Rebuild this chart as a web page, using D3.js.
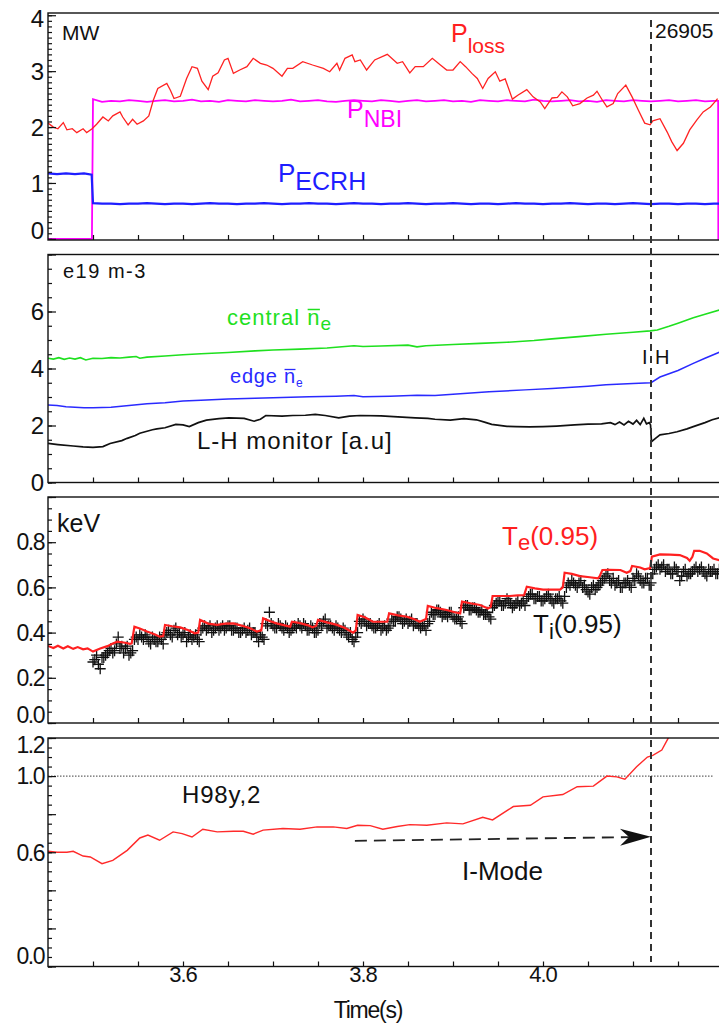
<!DOCTYPE html>
<html>
<head>
<meta charset="utf-8">
<script src="https://cdn.jsdelivr.net/npm/d3@7"></script>
<style>
  body { margin: 0; background: #fff; }
  svg { display: block; }
  text { font-family: "Liberation Sans", Arial, Helvetica, sans-serif; }
</style>
</head>
<body>
<svg id="chart" width="719" height="1029"></svg>
<script>
// ---------- time axis ----------
const timeDomain = [3.45, 4.2];
const timeTickLabels = ["3.6", "3.8", "4.0"];
const transitionTime = 4.12;   // I-mode -> H-mode transition

// ---------- panel 1: heating power (MW) ----------
const pLossTime = [3.450,3.456,3.461,3.467,3.471,3.477,3.482,3.489,3.493,3.499,3.504,3.511,3.517,3.522,3.530,3.533,3.539,3.544,3.549,3.556,3.562,3.567,3.572,3.582,3.586,3.590,3.597,3.604,3.610,3.616,3.621,3.628,3.633,3.639,3.646,3.650,3.656,3.663,3.671,3.678,3.686,3.693,3.700,3.710,3.716,3.722,3.733,3.744,3.756,3.763,3.771,3.774,3.780,3.788,3.791,3.797,3.804,3.813,3.827,3.838,3.844,3.852,3.858,3.867,3.877,3.886,3.893,3.900,3.908,3.914,3.921,3.927,3.933,3.939,3.947,3.952,3.958,3.966,3.972,3.982,3.989,3.997,4.002,4.010,4.016,4.021,4.027,4.033,4.041,4.049,4.056,4.060,4.066,4.071,4.078,4.083,4.092,4.099,4.106,4.113,4.119,4.122,4.130,4.138,4.143,4.149,4.156,4.163,4.171,4.178,4.186,4.191,4.194];
const pLossValue = [2.07,2.00,1.97,2.08,1.95,1.97,1.90,1.97,1.90,1.97,2.05,2.18,2.11,2.20,2.27,2.18,2.04,2.14,2.05,2.11,2.20,2.48,2.69,2.78,2.66,2.51,2.55,2.87,3.08,3.05,2.82,2.67,2.91,2.97,3.20,3.23,2.96,3.02,3.08,3.23,3.14,3.11,3.05,2.91,3.05,3.05,3.17,3.11,3.05,2.99,3.14,3.02,3.23,3.29,3.17,3.20,3.02,3.20,3.30,3.14,3.17,2.97,3.08,3.08,3.23,3.11,3.02,3.02,3.17,3.08,2.96,2.87,2.69,2.87,2.99,2.82,2.86,2.50,2.57,2.67,2.54,2.45,2.33,2.52,2.53,2.63,2.54,2.38,2.42,2.52,2.57,2.64,2.48,2.36,2.42,2.60,2.75,2.54,2.30,2.07,2.04,2.11,2.15,1.91,1.74,1.58,1.71,1.95,2.13,2.27,2.36,2.45,2.51];

// NBI and ECRH traces sampled every 10 ms from 3.50 s
const sampleStart = 3.50;
const sampleStep = 0.01;
const nbiOn = 3.4988, nbiOff = 4.1946;
const nbiValue = [2.50,2.45,2.47,2.46,2.48,2.47,2.45,2.47,2.48,2.46,2.47,2.49,2.46,2.47,2.45,2.48,2.47,2.46,2.48,2.47,2.46,2.47,2.49,2.46,2.47,2.48,2.46,2.45,2.47,2.48,2.47,2.46,2.48,2.47,2.45,2.47,2.48,2.46,2.47,2.48,2.46,2.47,2.45,2.48,2.47,2.46,2.48,2.47,2.46,2.49,2.47,2.46,2.47,2.48,2.46,2.47,2.45,2.48,2.47,2.46,2.48,2.47,2.46,2.47,2.48,2.46,2.47,2.48,2.46,2.47];
const ecrhEarlyTime = [3.450,3.460,3.470,3.480,3.490,3.4985];
const ecrhEarlyValue = [1.17,1.16,1.17,1.16,1.17,1.15];
const ecrhValue = [0.64,0.63,0.63,0.62,0.63,0.63,0.64,0.63,0.62,0.63,0.63,0.62,0.63,0.64,0.63,0.63,0.62,0.63,0.63,0.64,0.63,0.62,0.63,0.63,0.64,0.63,0.63,0.62,0.63,0.64,0.63,0.63,0.62,0.63,0.63,0.64,0.63,0.62,0.63,0.63,0.64,0.63,0.62,0.63,0.63,0.62,0.63,0.64,0.63,0.63,0.62,0.63,0.63,0.64,0.63,0.62,0.63,0.63,0.62,0.63,0.64,0.63,0.62,0.63,0.63,0.62,0.63,0.63,0.62,0.63];

// ---------- panel 2: densities (1e19 m^-3) ----------
const neCoreTime = [3.450,3.456,3.462,3.468,3.474,3.480,3.486,3.492,3.500,3.510,3.520,3.530,3.540,3.548,3.552,3.560,3.580,3.600,3.620,3.650,3.680,3.700,3.730,3.760,3.790,3.800,3.820,3.850,3.860,3.870,3.900,3.930,3.960,3.990,4.010,4.040,4.070,4.100,4.119,4.127,4.140,4.150,4.167,4.180,4.196];
const neCoreValue = [4.36,4.33,4.38,4.32,4.37,4.33,4.38,4.30,4.36,4.35,4.38,4.37,4.40,4.42,4.36,4.40,4.44,4.48,4.52,4.56,4.62,4.65,4.68,4.72,4.80,4.77,4.79,4.82,4.76,4.80,4.84,4.88,4.92,4.98,5.04,5.12,5.20,5.27,5.32,5.35,5.48,5.59,5.78,5.90,6.05];
const neEdgeTime = [3.450,3.460,3.470,3.480,3.490,3.500,3.510,3.520,3.540,3.560,3.580,3.600,3.620,3.650,3.680,3.710,3.740,3.770,3.790,3.800,3.830,3.860,3.880,3.900,3.940,3.980,4.010,4.050,4.070,4.100,4.120,4.130,4.150,4.167,4.180,4.196];
const neEdgeValue = [2.72,2.70,2.66,2.64,2.62,2.62,2.63,2.64,2.70,2.76,2.80,2.86,2.89,2.93,2.96,2.98,3.01,3.03,3.05,3.01,3.03,3.06,3.05,3.10,3.18,3.25,3.30,3.38,3.43,3.47,3.50,3.70,3.93,4.18,4.36,4.57];
const lhTime = [3.450,3.461,3.478,3.489,3.500,3.511,3.519,3.532,3.538,3.547,3.552,3.566,3.571,3.580,3.592,3.600,3.607,3.617,3.626,3.640,3.651,3.668,3.679,3.686,3.692,3.710,3.722,3.736,3.747,3.758,3.773,3.785,3.797,3.820,3.834,3.858,3.872,3.880,3.897,3.912,3.926,3.935,3.943,3.960,3.970,3.985,4.000,4.015,4.035,4.050,4.065,4.075,4.080,4.085,4.090,4.095,4.100,4.104,4.108,4.112,4.115,4.118,4.1195,4.1205,4.125,4.130,4.140,4.149,4.160,4.167,4.180,4.188,4.196];
const lhValue = [1.37,1.33,1.28,1.25,1.23,1.26,1.37,1.47,1.55,1.65,1.73,1.85,1.88,1.92,2.04,2.02,1.96,2.10,2.19,2.24,2.27,2.25,2.15,2.22,2.35,2.33,2.35,2.36,2.39,2.35,2.27,2.33,2.35,2.34,2.31,2.27,2.25,2.22,2.19,2.24,2.20,2.12,2.04,1.97,1.96,1.95,1.96,1.98,2.02,2.05,2.06,2.10,2.03,2.12,2.02,2.15,2.05,2.18,2.03,2.25,2.06,2.10,2.02,1.43,1.55,1.67,1.72,1.78,1.88,1.96,2.10,2.20,2.27];

// ---------- panel 3: edge temperatures (keV) ----------
const teTime = [3.450,3.456,3.461,3.467,3.472,3.478,3.483,3.489,3.494,3.500,3.508,3.516,3.522,3.527,3.536,3.541,3.543,3.546,3.552,3.560,3.569,3.574,3.578,3.580,3.588,3.597,3.606,3.613,3.617,3.619,3.628,3.638,3.647,3.656,3.666,3.674,3.682,3.687,3.689,3.697,3.704,3.713,3.719,3.721,3.730,3.739,3.744,3.748,3.750,3.760,3.771,3.780,3.789,3.792,3.794,3.802,3.811,3.820,3.827,3.829,3.839,3.849,3.858,3.863,3.870,3.872,3.882,3.893,3.902,3.908,3.910,3.919,3.930,3.939,3.942,3.944,3.954,3.963,3.972,3.979,3.982,3.991,4.000,4.010,4.019,4.022,4.024,4.032,4.041,4.052,4.061,4.063,4.066,4.074,4.086,4.093,4.097,4.099,4.108,4.113,4.119,4.121,4.130,4.141,4.152,4.160,4.163,4.166,4.168,4.174,4.182,4.189,4.196];
const teValue = [0.341,0.332,0.342,0.330,0.340,0.328,0.336,0.326,0.330,0.316,0.330,0.340,0.352,0.360,0.355,0.350,0.352,0.426,0.418,0.405,0.392,0.382,0.385,0.434,0.428,0.423,0.410,0.397,0.400,0.456,0.440,0.434,0.440,0.441,0.430,0.420,0.405,0.410,0.463,0.450,0.441,0.432,0.426,0.448,0.442,0.432,0.423,0.430,0.456,0.445,0.434,0.420,0.400,0.410,0.478,0.468,0.448,0.448,0.448,0.485,0.476,0.470,0.458,0.448,0.460,0.518,0.508,0.500,0.490,0.485,0.537,0.530,0.522,0.507,0.515,0.562,0.562,0.562,0.565,0.566,0.603,0.596,0.590,0.590,0.590,0.600,0.665,0.660,0.650,0.645,0.640,0.650,0.677,0.678,0.677,0.665,0.672,0.695,0.688,0.680,0.685,0.736,0.746,0.745,0.743,0.730,0.718,0.735,0.762,0.762,0.750,0.728,0.720];

// Ti(0.95) from CXRS: two interleaved sample sets, each one point every 4 ms
const tiStart = 3.500;
const tiStep = 0.004;
const tiValueA = [
  0.27,0.30,0.24,0.29,0.31,0.33,0.32,0.38,0.34,0.33,0.30,0.32,
  0.38,0.39,0.37,0.38,0.35,0.37,0.36,0.37,
  0.39,0.41,0.38,0.42,0.40,0.39,0.36,0.39,0.38,0.37,
  0.41,0.43,0.42,0.40,0.42,0.41,0.43,0.42,0.43,0.41,0.42,0.40,0.42,0.41,0.39,0.40,0.36,0.38,
  0.44,0.49,0.43,0.42,0.43,0.41,0.42,0.41,
  0.43,0.44,0.42,0.43,0.41,0.42,0.40,
  0.44,0.45,0.42,0.43,0.41,0.42,0.40,0.41,0.38,0.37,0.38,
  0.45,0.46,0.43,0.44,0.42,0.43,0.41,0.43,0.42,
  0.46,0.45,0.47,0.44,0.46,0.45,0.43,0.44,0.42,0.43,0.44,
  0.49,0.48,0.50,0.47,0.48,0.49,0.47,0.46,0.45,
  0.51,0.52,0.50,0.51,0.49,0.50,0.48,0.47,0.51,
  0.53,0.54,0.52,0.55,0.53,0.52,0.54,0.53,0.52,
  0.56,0.57,0.55,0.56,0.54,0.56,0.55,0.53,0.55,0.54,0.56,
  0.62,0.63,0.61,0.62,0.60,0.59,0.57,0.61,0.60,0.62,
  0.64,0.66,0.62,0.61,0.63,0.60,0.62,0.61,
  0.64,0.66,0.63,0.62,0.64,0.62,
  0.68,0.70,0.69,0.67,0.68,0.66,0.68,0.63,0.67,0.65,0.66,0.68,0.67,0.69,0.66,0.68,0.67,0.66,0.68
];
const tiOffsetB = 0.002;
const tiValueB = [
  0.28,0.26,0.29,0.30,0.32,0.31,0.35,0.33,0.31,0.34,0.31,0.37,
  0.37,0.38,0.39,0.36,0.38,0.36,0.38,0.35,
  0.40,0.39,0.41,0.39,0.38,0.40,0.38,0.37,0.39,0.36,
  0.42,0.41,0.43,0.41,0.43,0.42,0.41,0.43,0.41,0.42,0.40,0.41,0.40,0.42,0.40,0.38,0.39,0.37,
  0.43,0.44,0.42,0.44,0.42,0.43,0.40,0.42,
  0.42,0.43,0.44,0.41,0.43,0.40,0.41,
  0.43,0.46,0.43,0.42,0.43,0.41,0.42,0.39,0.40,0.36,0.40,
  0.44,0.45,0.44,0.43,0.42,0.44,0.42,0.41,0.43,
  0.45,0.47,0.46,0.45,0.44,0.46,0.44,0.43,0.43,0.41,0.45,
  0.48,0.50,0.49,0.48,0.47,0.49,0.46,0.47,0.44,
  0.52,0.50,0.51,0.50,0.49,0.48,0.49,0.46,0.52,
  0.54,0.52,0.53,0.54,0.51,0.53,0.52,0.54,0.55,
  0.57,0.55,0.56,0.54,0.55,0.57,0.54,0.55,0.56,0.53,0.60,
  0.61,0.62,0.60,0.63,0.61,0.58,0.60,0.59,0.61,0.63,
  0.65,0.63,0.64,0.62,0.60,0.62,0.63,0.60,
  0.63,0.65,0.62,0.64,0.61,0.66,
  0.69,0.68,0.70,0.68,0.66,0.69,0.67,0.65,0.68,0.66,0.67,0.69,0.68,0.67,0.65,0.67,0.68,0.66,0.67
];

// ---------- panel 4: confinement factor H98(y,2) ----------
const h98Time = [3.450,3.460,3.471,3.478,3.489,3.497,3.510,3.522,3.538,3.552,3.561,3.574,3.589,3.599,3.610,3.622,3.638,3.656,3.667,3.678,3.689,3.711,3.730,3.749,3.767,3.782,3.794,3.808,3.822,3.838,3.852,3.871,3.893,3.911,3.933,3.944,3.967,3.986,4.000,4.022,4.038,4.056,4.071,4.082,4.091,4.104,4.116,4.122,4.132,4.139,4.143];
const h98Value = [0.605,0.600,0.600,0.605,0.580,0.575,0.540,0.557,0.610,0.675,0.690,0.663,0.707,0.698,0.680,0.721,0.707,0.710,0.710,0.695,0.716,0.725,0.721,0.733,0.733,0.725,0.742,0.740,0.721,0.735,0.745,0.742,0.754,0.749,0.784,0.770,0.840,0.847,0.891,0.903,0.944,0.947,1.000,0.996,0.984,1.049,1.100,1.109,1.137,1.198,1.250];
const h98Reference = 1.0;
const iModeArrow = { from: [3.791, 0.660], to: [4.12, 0.681] };

// ---------- layout ----------
const svg = d3.select("#chart");
const X0 = 48, X1 = 723;
const x = d3.scaleLinear().domain(timeDomain).range([X0, X1]);

const panels = [
  { top: 13,    bottom: 240,   domain: [-0.02, 4.04], minor: 0.1,  major: 1,   fs: 24, labels: [[0,"0",-9],[1,"1",0],[2,"2",0],[3,"3",0],[4,"4",3]] },
  { top: 254.5, bottom: 482.5, domain: [0, 8],        minor: 0.5,  major: 2,   fs: 24, labels: [[0,"0",0],[2,"2",0],[4,"4",0],[6,"6",0]] },
  { top: 497,   bottom: 723,   domain: [0, 1.0],      minor: 0.05, major: 0.2, fs: 23, labels: [[0,"0.0",-8],[0.2,"0.2",0],[0.4,"0.4",0],[0.6,"0.6",0],[0.8,"0.8",0]] },
  { top: 738,   bottom: 966.5, domain: [0, 1.2],      minor: 0.05, major: 0.2, fs: 23, labels: [[0,"0.0",-11],[0.6,"0.6",0],[1.0,"1.0",0],[1.2,"1.2",6.5]] }
];

panels.forEach((p, i) => {
  p.y = d3.scaleLinear().domain(p.domain).range([p.bottom, p.top]);
  p.g = svg.append("g");
  const clipId = "clip" + i;
  svg.append("clipPath").attr("id", clipId)
    .append("rect").attr("x", X0).attr("y", p.top).attr("width", X1 - X0).attr("height", p.bottom - p.top);
  p.plot = p.g.append("g").attr("clip-path", `url(#${clipId})`);

  // frame
  p.g.append("rect").attr("x", X0).attr("y", p.top).attr("width", X1 - X0).attr("height", p.bottom - p.top)
    .attr("fill", "none").attr("stroke", "#111").attr("stroke-width", 1.4);

  // left ticks (inward)
  const lo = Math.max(0, p.domain[0]);
  const minorVals = d3.range(Math.ceil(lo / p.minor) * p.minor, p.domain[1] + 1e-9, p.minor);
  const majorVals = d3.range(0, p.domain[1] + 1e-9, p.major);
  p.g.append("g").attr("transform", `translate(${X0},0)`)
    .call(d3.axisLeft(p.y).tickValues(minorVals).tickSize(-4).tickFormat(""))
    .call(g => g.select(".domain").remove())
    .selectAll("line").attr("stroke", "#111").attr("stroke-width", 1.2);
  p.g.append("g").attr("transform", `translate(${X0},0)`)
    .call(d3.axisLeft(p.y).tickValues(majorVals).tickSize(-8).tickFormat(""))
    .call(g => g.select(".domain").remove())
    .selectAll("line").attr("stroke", "#111").attr("stroke-width", 1.2);

  // bottom ticks (inward)
  p.g.append("g").attr("transform", `translate(0,${p.bottom})`)
    .call(d3.axisBottom(x).tickValues(d3.range(3.5, 4.19, 0.05)).tickSize(-5).tickFormat(""))
    .call(g => g.select(".domain").remove())
    .selectAll("line").attr("stroke", "#111").attr("stroke-width", 1.2);

  // y tick labels
  p.g.selectAll("text.ylab").data(p.labels).join("text")
    .attr("class", "ylab")
    .attr("x", 44).attr("y", d => p.y(d[0]) + d[2])
    .attr("dy", "0.36em").attr("text-anchor", "end")
    .attr("font-size", p.fs).attr("fill", "#111")
    .attr("letter-spacing", d => d[1].length > 1 ? -1.5 : 0)
    .text(d => d[1]);
});

const [P1, P2, P3, P4] = panels;
const lineOf = (p) => d3.line().x(d => x(d[0])).y(d => p.y(d[1]));
const zipT = (t, v) => t.map((tt, i) => [tt, v[i]]);
const sampled = (v, t0, dt) => v.map((vv, i) => [t0 + i * dt, vv]);

// ---------- panel 1 ----------
const nbiSeries = [[timeDomain[0], 0], [nbiOn, 0]]
  .concat(sampled(nbiValue, sampleStart, sampleStep))
  .concat([[nbiOff, nbiValue[nbiValue.length - 1]], [nbiOff + 0.0002, 0], [timeDomain[1], 0]]);
P1.plot.append("path").datum(nbiSeries).attr("d", lineOf(P1))
  .attr("fill", "none").attr("stroke", "#ff00ff").attr("stroke-width", 1.8);

const ecrhSeries = zipT(ecrhEarlyTime, ecrhEarlyValue).concat(sampled(ecrhValue, sampleStart, sampleStep))
  .concat([[timeDomain[1], ecrhValue[ecrhValue.length - 1]]]);
P1.plot.append("path").datum(ecrhSeries).attr("d", lineOf(P1))
  .attr("fill", "none").attr("stroke", "#1e1eff").attr("stroke-width", 2.2);

P1.plot.append("path").datum(zipT(pLossTime, pLossValue)).attr("d", lineOf(P1))
  .attr("fill", "none").attr("stroke", "#ff2222").attr("stroke-width", 1.3);

// ---------- panel 2 ----------
P2.plot.append("path").datum(zipT(neCoreTime, neCoreValue)).attr("d", lineOf(P2))
  .attr("fill", "none").attr("stroke", "#1fe01f").attr("stroke-width", 1.6);
P2.plot.append("path").datum(zipT(neEdgeTime, neEdgeValue)).attr("d", lineOf(P2))
  .attr("fill", "none").attr("stroke", "#2a2aff").attr("stroke-width", 1.5);
P2.plot.append("path").datum(zipT(lhTime, lhValue)).attr("d", lineOf(P2))
  .attr("fill", "none").attr("stroke", "#111").attr("stroke-width", 1.7);

// ---------- panel 3 ----------
const tiPoints = sampled(tiValueA, tiStart, tiStep).concat(sampled(tiValueB, tiStart + tiOffsetB, tiStep));
P3.plot.append("g").selectAll("path").data(tiPoints).join("path")
  .attr("d", d => { const cx = x(d[0]), cy = P3.y(d[1]); return `M${cx-5.5},${cy}H${cx+5.5}M${cx},${cy-5.5}V${cy+5.5}`; })
  .attr("stroke", "#111").attr("stroke-width", 1.3).attr("fill", "none");
P3.plot.append("path").datum(zipT(teTime, teValue)).attr("d", lineOf(P3))
  .attr("fill", "none").attr("stroke", "#ff2020").attr("stroke-width", 2.2);

// ---------- panel 4 ----------
P4.plot.append("line")
  .attr("x1", X0).attr("x2", 713).attr("y1", P4.y(h98Reference)).attr("y2", P4.y(h98Reference))
  .attr("stroke", "#666").attr("stroke-width", 1.2).attr("stroke-dasharray", "1.5,1.5");
P4.plot.append("path").datum(zipT(h98Time, h98Value)).attr("d", lineOf(P4))
  .attr("fill", "none").attr("stroke", "#ff2a2a").attr("stroke-width", 1.4);

// I-mode arrow
{
  const ax0 = x(iModeArrow.from[0]), ay0 = P4.y(iModeArrow.from[1]);
  const ax1 = x(iModeArrow.to[0]), ay1 = P4.y(iModeArrow.to[1]);
  const ang = Math.atan2(ay1 - ay0, ax1 - ax0);
  const ux = Math.cos(ang), uy = Math.sin(ang);
  const headLen = 31, headHalf = 8.5, notch = 22;
  const bx = ax1 - ux * headLen, by = ay1 - uy * headLen;
  const nx = ax1 - ux * notch, ny = ay1 - uy * notch;
  P4.g.append("line").attr("x1", ax0).attr("y1", ay0).attr("x2", nx).attr("y2", ny)
    .attr("stroke", "#222").attr("stroke-width", 1.8).attr("stroke-dasharray", "12,7");
  P4.g.append("path")
    .attr("d", `M${ax1},${ay1}L${bx - uy * headHalf},${by + ux * headHalf}L${nx},${ny}L${bx + uy * headHalf},${by - ux * headHalf}Z`)
    .attr("fill", "#111");
}

// transition marker across all panels
svg.append("line")
  .attr("x1", x(transitionTime)).attr("x2", x(transitionTime))
  .attr("y1", 20).attr("y2", 962)
  .attr("stroke", "#333").attr("stroke-width", 2).attr("stroke-dasharray", "7,5");

// x tick labels and title
svg.selectAll("text.xlab").data(timeTickLabels).join("text")
  .attr("class", "xlab")
  .attr("x", d => x(+d)).attr("y", 982)
  .attr("text-anchor", "middle").attr("font-size", 22).attr("fill", "#111").attr("letter-spacing", -1)
  .text(d => d);
svg.append("text").attr("x", 368).attr("y", 1018).attr("text-anchor", "middle")
  .attr("font-size", 23).attr("letter-spacing", -1.2).attr("fill", "#111").text("Time(s)");

// ---------- annotations ----------
function label(x0, y0, parts, color) {
  const t = svg.append("text").attr("x", x0).attr("y", y0).attr("fill", color);
  parts.forEach(p => {
    const s = t.append("tspan").attr("font-size", p.size).text(p.text);
    if (p.dy) s.attr("dy", p.dy);
    if (p.ls) s.attr("letter-spacing", p.ls);
  });
  return t;
}
// bar over one character of a label (line-averaged density symbol)
function overbar(t, charIndex, yBar, color, width) {
  const node = t.node();
  const a = node.getStartPositionOfChar(charIndex).x;
  const b = node.getEndPositionOfChar(charIndex).x;
  svg.append("line").attr("x1", a + 0.5).attr("x2", b - 0.5).attr("y1", yBar).attr("y2", yBar)
    .attr("stroke", color).attr("stroke-width", width);
}

// panel 1
label(62, 40, [{ text: "MW", size: 21 }], "#111");
label(451, 42, [{ text: "P", size: 25 }, { text: "loss", size: 21, dy: 11 }], "#ff2020");
label(347, 118, [{ text: "P", size: 25 }, { text: "NBI", size: 23, dy: 9 }], "#ff00ff");
label(278, 182, [{ text: "P", size: 26 }, { text: "ECRH", size: 25, dy: 8 }], "#1e1eff");
label(655, 38, [{ text: "26905", size: 21 }], "#111");

// panel 2
label(63, 278, [{ text: "e19 m-3", size: 20, ls: 1.5 }], "#111");
const centralLab = label(227, 325, [{ text: "central n", size: 22, ls: 1 }, { text: "e", size: 19, dy: 5 }], "#1fe01f");
overbar(centralLab, 8, 309.5, "#1fe01f", 1.5);
const edgeLab = label(230, 383, [{ text: "edge n", size: 20, ls: 0.8 }, { text: "e", size: 12, dy: 4 }], "#2a2aff");
overbar(edgeLab, 5, 369.5, "#2a2aff", 1.3);
label(197, 449, [{ text: "L-H monitor [a.u]", size: 24, ls: 1 }], "#111");
label(642, 364, [{ text: "I", size: 20 }], "#111");
label(655, 364, [{ text: "H", size: 20 }], "#111");

// panel 3
label(57, 532, [{ text: "keV", size: 25 }], "#111");
label(502, 545, [{ text: "T", size: 26 }, { text: "e", size: 22, dy: 5 }, { text: "(0.95)", size: 26, dy: -5 }], "#ff2020");
label(533, 633, [{ text: "T", size: 26 }, { text: "i", size: 22, dy: 6 }, { text: "(0.95)", size: 26, dy: -6 }], "#111");

// panel 4
label(182, 803, [{ text: "H98y,2", size: 24, ls: 0.8 }], "#111");
label(462, 880, [{ text: "I-Mode", size: 26 }], "#111");
</script>
</body>
</html>
